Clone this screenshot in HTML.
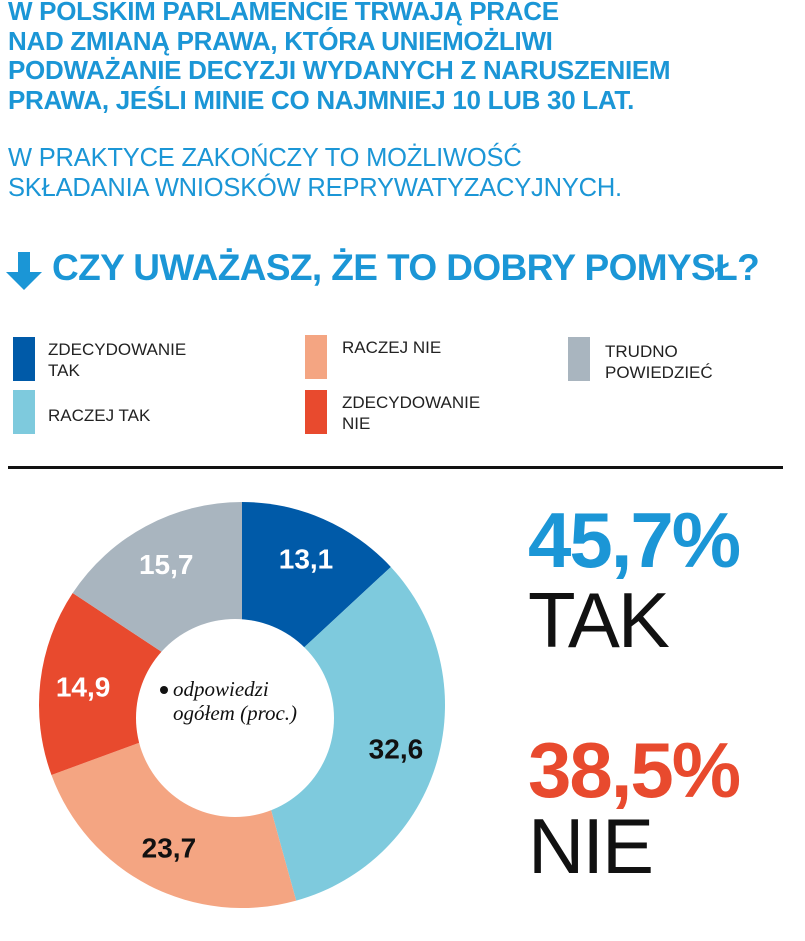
<!DOCTYPE html>
<html><head><meta charset="utf-8">
<style>
body{margin:0;width:805px;height:941px;background:#fff;overflow:hidden;position:relative;font-family:"Liberation Sans Narrow","Liberation Sans",sans-serif;}
.abs{position:absolute;white-space:nowrap}
.h1{color:#1b96d6;font-weight:bold;font-size:26px;line-height:29.5px;left:8px;top:-3px;letter-spacing:-0.3px}
.h2{color:#1b96d6;font-size:25.5px;line-height:29.5px;left:8px;top:144px;letter-spacing:-0.2px}
.q{color:#1b96d6;font-weight:bold;font-size:37px;left:52px;top:247px;letter-spacing:-0.6px}
.sw{position:absolute;width:22px;height:44px}
.lt{position:absolute;font-family:"Liberation Sans",sans-serif;font-size:17px;line-height:21px;color:#222}
.big{font-family:"Liberation Sans",sans-serif;font-size:78px;line-height:80px;position:absolute;left:528px;letter-spacing:-2px}
</style></head><body>
<div class="abs h1">W POLSKIM PARLAMENCIE TRWAJĄ PRACE<br>NAD ZMIANĄ PRAWA, KTÓRA UNIEMOŻLIWI<br>PODWAŻANIE DECYZJI WYDANYCH Z NARUSZENIEM<br>PRAWA, JEŚLI MINIE CO NAJMNIEJ 10 LUB 30 LAT.</div>
<div class="abs h2">W PRAKTYCE ZAKOŃCZY TO MOŻLIWOŚĆ<br>SKŁADANIA WNIOSKÓW REPRYWATYZACYJNYCH.</div>
<svg class="abs" style="left:2px;top:250px" width="44" height="42"><path d="M16 2h12v20h12L22 40 4 22h12z" fill="#1b96d6"/></svg>
<div class="abs q">CZY UWAŻASZ, ŻE TO DOBRY POMYSŁ?</div>

<div class="sw" style="left:13px;top:337px;background:#005aa8"></div>
<div class="lt" style="left:48px;top:339px">ZDECYDOWANIE<br>TAK</div>
<div class="sw" style="left:13px;top:390px;background:#7ecadd"></div>
<div class="lt" style="left:48px;top:405px">RACZEJ TAK</div>
<div class="sw" style="left:305px;top:335px;background:#f4a582"></div>
<div class="lt" style="left:342px;top:337px">RACZEJ NIE</div>
<div class="sw" style="left:305px;top:390px;background:#e84a2e"></div>
<div class="lt" style="left:342px;top:392px">ZDECYDOWANIE<br>NIE</div>
<div class="sw" style="left:568px;top:337px;background:#a9b5bf"></div>
<div class="lt" style="left:605px;top:341px">TRUDNO<br>POWIEDZIEĆ</div>

<div class="abs" style="left:8px;top:466px;width:775px;height:3px;background:#111"></div>

<svg id="donut" class="abs" style="left:0;top:480px" width="480" height="461"></svg>

<div class="big" style="top:500px;color:#1b96d6;font-weight:bold">45,7%</div>
<div class="big" style="top:580px;color:#111">TAK</div>
<div class="big" style="top:730px;color:#e84a2e;font-weight:bold">38,5%</div>
<div class="big" style="top:806px;color:#111">NIE</div>

<script>
const categories=["Zdecydowanie tak","Raczej tak","Raczej nie","Zdecydowanie nie","Trudno powiedzieć"];
const values=[13.1,32.6,23.7,14.9,15.7];
const labels=["13,1","32,6","23,7","14,9","15,7"];
const colors=["#005aa8","#7ecadd","#f4a582","#e84a2e","#a9b5bf"];
const labelColors=["#fff","#111","#111","#fff","#fff"];
const svg=document.getElementById('donut');
const NS="http://www.w3.org/2000/svg";
const cx=242,cy=225,R=203,LR=160;
const total=values.reduce((a,b)=>a+b,0);
function pt(a,r){return [cx+r*Math.sin(a),cy-r*Math.cos(a)];}
let acc=0;
values.forEach((v,i)=>{
  const a0=acc/total*2*Math.PI;acc+=v;const a1=acc/total*2*Math.PI;
  const p0=pt(a0,R),p1=pt(a1,R);
  const path=document.createElementNS(NS,'path');
  path.setAttribute('d',`M${cx},${cy}L${p0[0]},${p0[1]}A${R},${R} 0 ${a1-a0>Math.PI?1:0} 1 ${p1[0]},${p1[1]}Z`);
  path.setAttribute('fill',colors[i]);
  
  
  svg.appendChild(path);
});
const hole=document.createElementNS(NS,'circle');
hole.setAttribute('cx',cx-7);hole.setAttribute('cy',cy+13);hole.setAttribute('r',99);hole.setAttribute('fill','#fff');


svg.appendChild(hole);
acc=0;
values.forEach((v,i)=>{
  const am=(acc+v/2)/total*2*Math.PI;acc+=v;
  const p=pt(am,LR);
  const t=document.createElementNS(NS,'text');
  t.setAttribute('x',p[0]);t.setAttribute('y',p[1]+10);
  t.setAttribute('text-anchor','middle');t.setAttribute('font-size','28');t.setAttribute('font-weight','bold');
  t.setAttribute('font-family','Liberation Sans, sans-serif');t.setAttribute('fill',labelColors[i]);
  t.textContent=labels[i];
  
  
  svg.appendChild(t);
});
const note=document.createElementNS(NS,'text');
note.setAttribute('font-family','Liberation Serif, serif');note.setAttribute('font-style','italic');note.setAttribute('font-size','21');note.setAttribute('fill','#111');
note.innerHTML='<tspan x="173" y="216">odpowiedzi</tspan><tspan x="173" y="240">ogółem (proc.)</tspan>';


svg.appendChild(note);
const dot=document.createElementNS(NS,'circle');
dot.setAttribute('cx',164);dot.setAttribute('cy',210);dot.setAttribute('r',4);dot.setAttribute('fill','#111');


svg.appendChild(dot);
</script>
</body></html>
